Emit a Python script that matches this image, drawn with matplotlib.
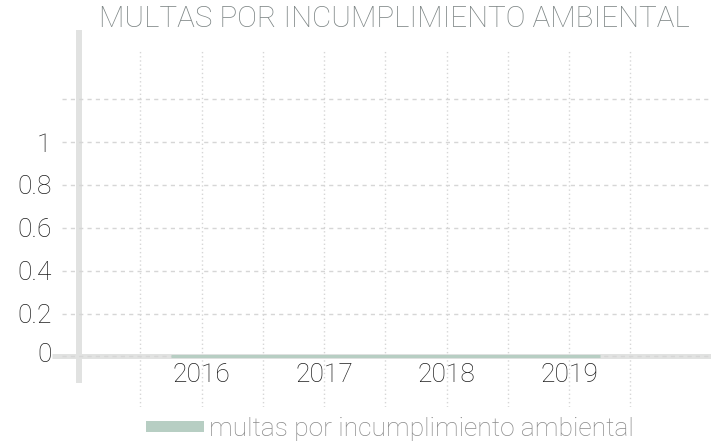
import numpy as np
import matplotlib
matplotlib.use("Agg")
import matplotlib.pyplot as plt
import matplotlib.transforms as mtransforms
from matplotlib.patches import Patch

# ---- data ----
years = [2016, 2017, 2018, 2019]
multas = [0, 0, 0, 0]
series_name = "multas por incumplimiento ambiental"
title = "MULTAS POR INCUMPLIMIENTO AMBIENTAL"
y_ticks = [0, 0.2, 0.4, 0.6, 0.8, 1, 1.2]
y_labels = ["0", "0.2", "0.4", "0.6", "0.8", "1", ""]

# ---- style ----
FONT = "Roboto"
LINE_C = "#b7cec3"
AXIS_C = "#e1e2e1"
GRID_C = "#d6d6d6"
W, H = 711, 443

plt.rcParams["font.family"] = [FONT, "DejaVu Sans"]
fig = plt.figure(figsize=(W / 100, H / 100), dpi=100)
ax = fig.add_axes([62 / W, (H - 407) / H, (W - 62) / W, (407 - 51) / H])
ax.set_xlim(2014.861, 2020.159)
ax.set_ylim(-0.236, 1.425)
for s in ax.spines.values():
    s.set_visible(False)

# y ticks / grid
ax.set_yticks(y_ticks)
ax.set_yticklabels(y_labels)
ax.grid(axis="y", which="major", color=GRID_C, lw=1, ls=(0, (3, 3)))

# x: year labels on major ticks, extra gridlines halfway between years (minor)
ax.set_xticks(years)
ax.set_xticklabels([str(y) for y in years])
half = [y - 0.5 for y in years] + [years[-1] + 0.5]
ax.set_xticks(half, minor=True)
ax.grid(axis="x", which="both", color=GRID_C, lw=1, ls=(0, (1, 2)))
ax.tick_params(axis="both", which="both", length=0)
ax.tick_params(axis="y", pad=7.5, labelsize=19, labelcolor="#1e1e1e")
ax.tick_params(axis="x", pad=-31.5, labelsize=19, labelcolor="#1e1e1e")
for lab in ax.get_yticklabels() + ax.get_xticklabels():
    lab.set_fontweight("light")

# the "0" label sits slightly above its gridline in the reference
zero_lab = ax.yaxis.get_major_ticks()[0].label1
zero_lab.set_transform(zero_lab.get_transform() +
                       mtransforms.ScaledTranslation(0, 4 / 100, fig.dpi_scale_trans))

# axis lines (decorations)
ax.plot([2015, 2015], [-0.124, 1.524], color=AXIS_C, lw=4.3, clip_on=False,
        solid_capstyle="butt", zorder=1)
ax.plot([2014.78, 2020.2], [0, 0], color=AXIS_C, lw=3.6, clip_on=False,
        solid_capstyle="butt", zorder=1)

# data line
band = 0.25
xs = np.concatenate(([years[0] - band], years, [years[-1] + band]))
ys = np.concatenate(([multas[0]], multas, [multas[-1]]))
ax.plot(xs, ys, color=LINE_C, lw=2.2, solid_capstyle="butt", zorder=3)

# title
fig.text(394 / W, 1 - 19 / H, title, ha="center", va="center", fontsize=21.3,
         fontweight="light", color="#7d8585")

# legend
handle = Patch(facecolor=LINE_C, edgecolor="none")
fig.legend([handle], [series_name], loc="center", bbox_to_anchor=(390 / W, 1 - 429 / H),
           frameon=False, handlelength=2.2, handleheight=0.25,
           handletextpad=0.2, labelcolor="#8a8a8a", prop={"weight": "light", "size": 19})

fig.savefig("out.png", dpi=100)
